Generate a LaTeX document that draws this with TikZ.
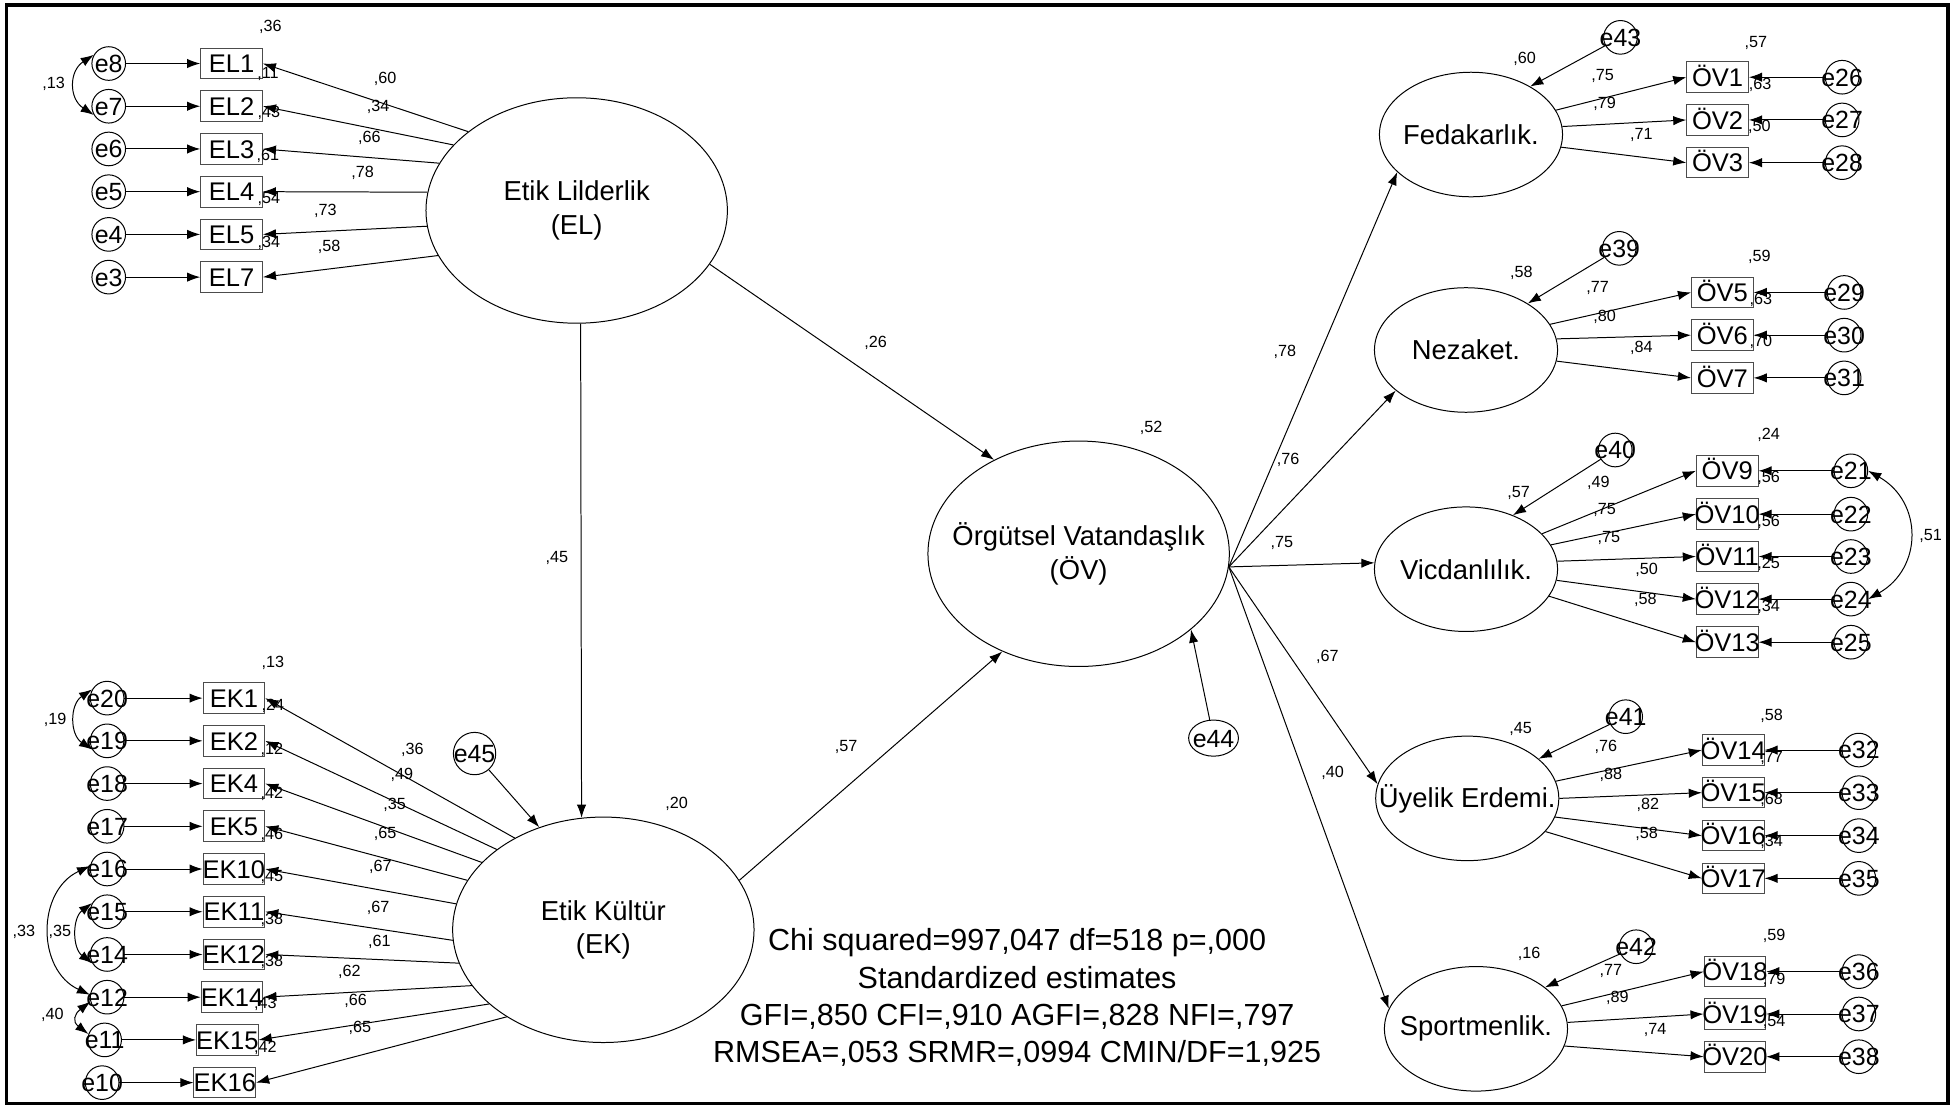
\documentclass[tikz,border=0pt]{standalone}
\usepackage{fontspec}
\setmainfont{Liberation Sans}
\usetikzlibrary{shapes.geometric,arrows.meta}
\newcommand\cbx[1]{\makebox[0pt]{#1}}
\begin{document}
\begin{tikzpicture}[x=1pt,y=-1pt,line width=0.8pt,
  >={Latex[length=10.5pt,width=7.5pt]},
  obs/.style={draw=black!70,rectangle,minimum width=49.5pt,minimum height=24.6pt,inner sep=0pt,
    font=\fontsize{20.5}{24}\selectfont,text height=14.7pt,text depth=0pt},
  err/.style={draw,circle,minimum size=27pt,inner sep=0pt,
    font=\fontsize{20}{24}\selectfont,text height=14.3pt,text depth=0pt},
  lat/.style={draw,ellipse,minimum width=242pt,minimum height=181pt,inner sep=0pt},
  fac/.style={draw,ellipse,minimum width=147pt,minimum height=100pt,inner sep=0pt},
  ltext/.style={font=\fontsize{22}{27}\selectfont,align=center,inner sep=0pt},
  est/.style={font=\fontsize{13}{15}\selectfont,inner sep=0pt},
  reg/.style={->},
  cov/.style={<->}]
\useasboundingbox (0,0) rectangle (1568,890);
\draw[line width=2.5pt] (5.5,4) rectangle (1564,886);

% ---------- first-order latent variables ----------
\node[lat] (EL) at (463,169) {};
\node[ltext] (ELt) at (EL.center) {Etik Lilderlik\\(EL)};
\node[lat] (EK) at (484.4,746.5) {};
\node[ltext] (EKt) at (EK.center) {Etik Kültür\\(EK)};
\node[lat] (OV) at (866,444.6) {};
\node[ltext] (OVt) at (OV.center) {Örgütsel Vatandaşlık\\(ÖV)};

% ---------- Etik Liderlik indicators ----------
\foreach \n/\y/\e/\a in {1/51/8/144.7, 2/85.3/7/152.5, 3/119.6/6/161.8, 4/153.9/5/173.5, 5/188.2/4/186.8, 7/222.5/3/198.5}{
  \node[obs] (EL\n) at (185.9,\y) {\cbx{EL\n}};
  \node[err] (e\e) at (87.3,\y) {\cbx{e\e}};
  \draw[reg] (e\e) -- (EL\n);
  \draw[reg] (EL.\a) -- (EL\n.east);
}
\draw[cov] (e8.150) .. controls +(-20,13) and +(-20,-13) .. (e7.210);

% ---------- Etik Kultur indicators ----------
\foreach \n/\y/\e/\bx/\ex/\a in {1/560.5/20/187.8/86/134.0, 2/594.8/19/187.8/86/143.2,
    4/629.1/18/187.8/86/151.9, 5/663.4/17/187.8/86/160.2, 10/697.7/16/187.8/86/170.8,
    11/732/15/187.8/86/184.6, 12/766.3/14/187.8/86/193.8, 14/800.6/12/186.3/86/203.6,
    15/834.9/11/182.5/84/213.2, 16/869.2/10/180.5/82/222.3}{
  \node[obs] (EK\n) at (\bx,\y) {\cbx{EK\n}};
  \node[err] (e\e) at (\ex,\y) {\cbx{e\e}};
  \draw[reg] (e\e) -- (EK\n);
  \draw[reg] (EK.\a) -- (EK\n.east);
}
\draw[cov] (e20.150) .. controls +(-18,12) and +(-18,-12) .. (e19.210);
\draw[cov] (e16.170) .. controls +(-43,20) and +(-43,-20) .. (e12.172);
\draw[cov] (e15.150) .. controls +(-16,12) and +(-16,-12) .. (e14.210);
\draw[cov] (e12.195) .. controls +(-13,10) and +(-13,-10) .. (e11.160);

% ---------- structural paths ----------
\draw[reg] (EL.272) -- (EK.101.3);
\draw[reg] (EL.338.1) -- (OV.132);
\draw[reg] (EK.20.6) -- (OV.232.4);
\node[err,minimum size=34pt] (e45) at (381,605) {\cbx{e45}};
\draw[reg] (e45) -- (EK.122.6);
\node[draw,ellipse,minimum width=40pt,minimum height=29pt,inner sep=0pt,
  font=\fontsize{20}{24}\selectfont,text height=14.3pt,text depth=0pt] (e44) at (974.3,592.6) {\cbx{e44}};
\draw[reg] (e44) -- (OV.326);

% ---------- second-order factors ----------
\coordinate (ovR) at (OV.355);
\node[fac] (Fed) at (1181,108) {};
\node[ltext] (Fedt) at (Fed.center) {Fedakarlık.};
\node[fac] (Nez) at (1177,281) {};
\node[ltext] (Nezt) at (Nez.center) {Nezaket.};
\node[fac] (Vic) at (1177,457) {};
\node[ltext] (Vict) at (Vic.center) {Vicdanlılık.};
\node[fac] (Uye) at (1178,641) {};
\node[ltext] (Uyet) at (Uye.center) {Üyelik Erdemi.};
\node[fac] (Spo) at (1185,826) {};
\node[ltext] (Spot) at (Spo.center) {Sportmenlik.};
\draw[reg] (ovR) -- (Fed.207.6);
\draw[reg] (ovR) -- (Nez.210.3);
\draw[reg] (ovR) -- (Vic.176.8);
\draw[reg] (ovR) -- (Uye.171.3);
\draw[reg] (ovR) -- (Spo.167.2);

% disturbances of the second-order factors
\node[err] (e43) at (1301,30) {\cbx{e43}};
\node[err] (e39) at (1300,199.4) {\cbx{e39}};
\node[err] (e40) at (1296.8,361.3) {\cbx{e40}};
\node[err] (e41) at (1305.2,575.4) {\cbx{e41}};
\node[err] (e42) at (1313.6,760.1) {\cbx{e42}};
\draw[reg] (e43) -- (Fed.39.4);
\draw[reg] (e39) -- (Nez.37.5);
\draw[reg] (e40) -- (Vic.49.5);
\draw[reg] (e41) -- (Uye.29.1);
\draw[reg] (e42) -- (Spo.31.1);

% ---------- indicators of the second-order factors ----------
\foreach \n/\y/\e/\a in {1/62/26/16.0, 2/96.3/27/5.9, 3/130.6/28/352.3}{
  \node[obs] (OV\n) at (1379,\y) {\cbx{ÖV\n}};
  \node[err] (e\e) at (1479,\y) {\cbx{e\e}};
  \draw[reg] (e\e) -- (OV\n);
  \draw[reg] (Fed.\a) -- (OV\n.west);
}
\foreach \n/\y/\e/\a in {5/234.8/29/17.3, 6/269.1/30/7.2, 7/303.4/31/353.5}{
  \node[obs] (OV\n) at (1382.8,\y) {\cbx{ÖV\n}};
  \node[err] (e\e) at (1480.6,\y) {\cbx{e\e}};
  \draw[reg] (e\e) -- (OV\n);
  \draw[reg] (Nez.\a) -- (OV\n.west);
}
\foreach \n/\y/\e/\a in {9/378/21/25.0, 10/412.8/22/16.3, 11/446.8/23/5.1, 12/481/24/353.3, 13/515.6/25/342.1}{
  \node[obs] (OV\n) at (1386.7,\y) {\cbx{ÖV\n}};
  \node[err] (e\e) at (1486,\y) {\cbx{e\e}};
  \draw[reg] (e\e) -- (OV\n);
  \draw[reg] (Vic.\a) -- (OV\n.west);
}
\draw[cov] (e21.east) .. controls +(44,25) and +(44,-25) .. (e24.east);
\foreach \n/\y/\e/\a in {14/602.2/32/11.9, 15/636.4/33/0.6, 16/670.9/34/348.3, 17/705.2/35/337.4}{
  \node[obs] (OV\n) at (1391.5,\y) {\cbx{ÖV\n}};
  \node[err] (e\e) at (1492.4,\y) {\cbx{e\e}};
  \draw[reg] (e\e) -- (OV\n);
  \draw[reg] (Uye.\a) -- (OV\n.west);
}
\foreach \n/\y/\e/\a in {18/780.1/36/15.6, 19/814.1/37/4.4, 20/848.4/38/349.5}{
  \node[obs] (OV\n) at (1392.9,\y) {\cbx{ÖV\n}};
  \node[err] (e\e) at (1492.4,\y) {\cbx{e\e}};
  \draw[reg] (e\e) -- (OV\n);
  \draw[reg] (Spo.\a) -- (OV\n.west);
}

% ---------- standardized estimates ----------
\foreach \v/\x/\y [count=\k] in {60/309.2/63.7, 34/303.5/85.6, 66/296.6/111.1, 78/291.2/138.6,
    73/261.2/169.1, 58/264.3/198.6, 13/43/67.4, 36/217/21.4, 11/215.1/59.4, 43/215.9/91,
    61/215.1/125.3, 54/215.9/160, 34/215.9/194.8}
  \node[est] (a\k) at (\x,\y) {,\v};
\foreach \v/\x/\y [count=\k] in {13/219/532.6, 24/219/566.8, 12/218.2/602.2, 42/218.2/637,
    46/218.2/670.4, 45/218.2/704.4, 38/218.2/738.7, 38/218.2/772, 43/213/806, 42/213/841,
    36/331.1/602.2, 49/322.7/622.2, 35/316.9/646.3, 65/309.2/669.1, 67/305.4/695.8,
    67/303.5/729.3, 61/304.5/756.1, 62/280.5/780, 66/285.5/803.5, 65/289/825.5,
    19/44.2/578.1, 33/19.2/748, 35/48/748, 40/42/815}
  \node[est] (b\k) at (\x,\y) {,\v};
\foreach \v/\x/\y [count=\k] in {26/703/275, 57/679.3/600.1, 45/447/448, 52/924.1/343.5,
    20/543.3/645.5, 78/1031.6/282.3, 76/1034.2/369.2, 75/1029.1/436.2, 67/1065.7/527.7,
    40/1070/620.8}
  \node[est] (c\k) at (\x,\y) {,\v};
\foreach \v/\x/\y [count=\k] in {60/1224/47.6, 57/1409.8/34.8, 75/1286.6/61, 79/1288.3/83.5,
    71/1317.7/108.1, 63/1413.2/68.2, 50/1412.5/101.7,
    58/1221.5/218.9, 59/1412.5/206.1, 77/1282.6/231.5, 80/1288.3/254.2, 84/1317.7/279.7,
    63/1413.8/240.9, 70/1413.8/274.3,
    57/1219.2/395.6, 24/1419.9/349.3, 49/1283.3/387.5, 75/1288.3/409.5, 75/1291.7/432.2,
    50/1322.1/457.6, 58/1321.1/481.7, 56/1419.9/384, 56/1419.9/418.8, 25/1419.9/452.8,
    34/1419.9/487.1, 51/1550/430,
    45/1220.9/585.6, 58/1422.3/574.9, 76/1289.3/600, 88/1293.4/622.2, 82/1323.1/646.3,
    58/1322.1/669.6, 77/1422.3/608.9, 68/1422.3/642.3, 34/1422.3/675.8,
    16/1227.6/766, 59/1424.3/751.5, 77/1293.4/779.3, 89/1298.5/801.5, 74/1328.8/827,
    79/1424.3/786.8, 54/1424.3/820.3}
  \node[est] (d\k) at (\x,\y) {,\v};

% ---------- fit statistics ----------
\node[font=\fontsize{24.5}{29.9}\selectfont,align=center,inner sep=0pt] (fitstat) at (816.6,801)
  {Chi squared=997,047 df=518 p=,000\\Standardized estimates\\GFI=,850 CFI=,910 AGFI=,828 NFI=,797\\RMSEA=,053 SRMR=,0994 CMIN/DF=1,925};
\end{tikzpicture}
\end{document}
